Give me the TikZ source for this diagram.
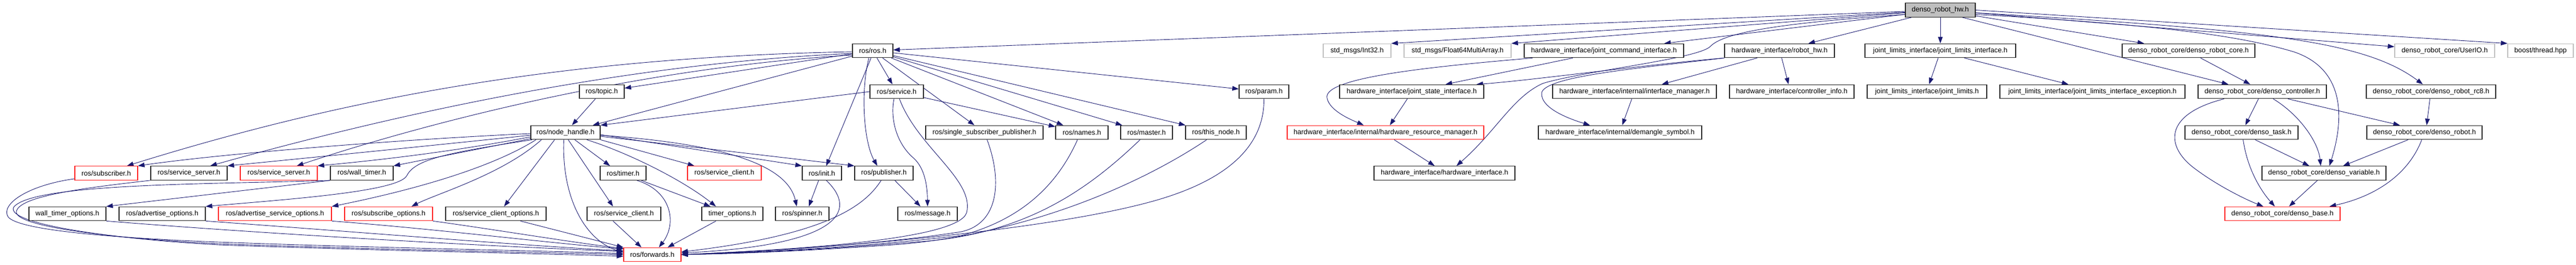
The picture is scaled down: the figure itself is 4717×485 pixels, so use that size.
\documentclass[tikz,border=0pt]{standalone}
\usepackage{fontspec}
\setmainfont{Liberation Sans}
\usetikzlibrary{arrows.meta,calc,backgrounds}
\definecolor{edgec}{HTML}{191970}
\definecolor{redc}{HTML}{FF2020}
\definecolor{grayc}{HTML}{BFBFBF}
\tikzset{
  box/.style={draw=black!85, line width=1.2pt, rectangle, inner sep=0pt, fill=white,
    minimum height=25.5pt, font=\fontsize{12.8}{15}\selectfont, anchor=center},
  redbox/.style={box, draw=redc},
  graybox/.style={box, draw=grayc},
  rootbox/.style={box, fill=grayc},
  dep/.style={draw=edgec, line width=0.9pt, -{Triangle[length=12pt,width=8.5pt]}},
}
\begin{document}
\begin{tikzpicture}[x=1pt,y=-1pt]
\useasboundingbox (0,0) rectangle (4717,485);
% row 0
\node[rootbox, minimum width=128pt] (R) at (3553,18.5) {denso\_robot\_hw.h};
% row 1
\node[box, minimum width=74pt] (ros) at (1598,93) {ros/ros.h};
\node[graybox, minimum width=124pt] (int32) at (2485,93) {std\_msgs/Int32.h};
\node[graybox, minimum width=196pt] (f64) at (2669,93) {std\_msgs/Float64MultiArray.h};
\node[box, minimum width=292pt] (jci) at (2937,93) {hardware\_interface/joint\_command\_interface.h};
\node[box, minimum width=201pt] (rhw) at (3258.5,93) {hardware\_interface/robot\_hw.h};
\node[box, minimum width=276pt] (jli) at (3553,93) {joint\_limits\_interface/joint\_limits\_interface.h};
\node[box, minimum width=243pt] (drc) at (4007.5,93) {denso\_robot\_core/denso\_robot\_core.h};
\node[graybox, minimum width=183pt] (userio) at (4476.5,93) {denso\_robot\_core/UserIO.h};
\node[graybox, minimum width=120pt] (boost) at (4652,93) {boost/thread.hpp};
% row 2
\node[box, minimum width=82pt] (topic) at (1102,168) {ros/topic.h};
\node[box, minimum width=98pt] (service) at (1642,168) {ros/service.h};
\node[box, minimum width=91pt] (param) at (2314.5,168) {ros/param.h};
\node[box, minimum width=264pt] (jsi) at (2585,168) {hardware\_interface/joint\_state\_interface.h};
\node[box, minimum width=300pt] (im) at (2993,168) {hardware\_interface/internal/interface\_manager.h};
\node[box, minimum width=228pt] (ci) at (3281,168) {hardware\_interface/controller\_info.h};
\node[box, minimum width=219pt] (jl) at (3528.5,168) {joint\_limits\_interface/joint\_limits.h};
\node[box, minimum width=339pt] (jle) at (3831.5,168) {joint\_limits\_interface/joint\_limits\_interface\_exception.h};
\node[box, minimum width=235pt] (dc) at (4142.5,168) {denso\_robot\_core/denso\_controller.h};
\node[box, minimum width=237pt] (rc8) at (4451.5,168) {denso\_robot\_core/denso\_robot\_rc8.h};
% row 3
\node[box, minimum width=127pt] (nh) at (1035.5,243) {ros/node\_handle.h};
\node[box, minimum width=215pt] (ssp) at (1802.5,243) {ros/single\_subscriber\_publisher.h};
\node[box, minimum width=96pt] (names) at (1981,243) {ros/names.h};
\node[box, minimum width=95pt] (master) at (2099.5,243) {ros/master.h};
\node[box, minimum width=111pt] (thisnode) at (2226.5,243) {ros/this\_node.h};
\node[redbox, minimum width=360pt] (hrm) at (2537,243) {hardware\_interface/internal/hardware\_resource\_manager.h};
\node[box, minimum width=299pt] (dsym) at (2966.5,243) {hardware\_interface/internal/demangle\_symbol.h};
\node[box, minimum width=207pt] (dtask) at (4104.5,243) {denso\_robot\_core/denso\_task.h};
\node[box, minimum width=211pt] (drobot) at (4439.5,243) {denso\_robot\_core/denso\_robot.h};
% row 4
\node[redbox, minimum width=115pt] (sub) at (194.5,317.5) {ros/subscriber.h};
\node[box, minimum width=140pt] (ssrv) at (346,317.5) {ros/service\_server.h};
\node[redbox, minimum width=141pt] (ssrv2) at (510.5,317.5) {ros/service\_server.h};
\node[box, minimum width=115pt] (wt) at (662.5,317.5) {ros/wall\_timer.h};
\node[box, minimum width=84pt] (timer) at (1141,317.5) {ros/timer.h};
\node[redbox, minimum width=135pt] (sclient2) at (1326.5,317.5) {ros/service\_client.h};
\node[box, minimum width=72pt] (init) at (1505,317.5) {ros/init.h};
\node[box, minimum width=107pt] (pub) at (1618.5,317.5) {ros/publisher.h};
\node[box, minimum width=258pt] (hi) at (2645,317.5) {hardware\_interface/hardware\_interface.h};
\node[box, minimum width=227pt] (dv) at (4255.5,317.5) {denso\_robot\_core/denso\_variable.h};
% row 5
\node[box, minimum width=141pt] (wto) at (123.5,392) {wall\_timer\_options.h};
\node[box, minimum width=158pt] (ao) at (297,392) {ros/advertise\_options.h};
\node[redbox, minimum width=207pt] (aso) at (503.5,392) {ros/advertise\_service\_options.h};
\node[redbox, minimum width=161pt] (so) at (711.5,392) {ros/subscribe\_options.h};
\node[box, minimum width=184pt] (sco) at (908,392) {ros/service\_client\_options.h};
\node[box, minimum width=135pt] (sclient) at (1142.5,392) {ros/service\_client.h};
\node[box, minimum width=112pt] (to) at (1341,392) {timer\_options.h};
\node[box, minimum width=98pt] (spinner) at (1469,392) {ros/spinner.h};
\node[box, minimum width=109pt] (msg) at (1698.5,392) {ros/message.h};
\node[redbox, minimum width=211pt] (dbase) at (4179.5,392) {denso\_robot\_core/denso\_base.h};
% row 6
\node[redbox, minimum width=105pt] (fwd) at (1194.5,467) {ros/forwards.h};

\begin{pgfonlayer}{background}
% ---- root
\draw[dep] (R) -- (ros);
\draw[dep] (R) -- (int32.north east);
\draw[dep] (R) -- (f64.north east);
\draw[dep] (R) -- (jci);
\draw[dep] (R) -- (rhw);
\draw[dep] (R) -- (jli);
\draw[dep] (R) -- (drc);
\draw[dep] ($(R.south)+(40,0)$) -- ($(dc.north)+(-62,0)$);
\draw[dep] ($(R.east)+(0,5)$) .. controls (4150,55) and (4330,75) .. ($(rc8.north)+(-15,0)$);
\draw[dep] (R) -- (userio);
\draw[dep] (R.east) -- (boost.north west);
\draw[dep] ($(R.east)+(0,8)$) .. controls (3950,45) and (4100,65) .. (4200,95) .. controls (4290,125) and (4295,210) .. ($(dv.north)+(10,0)$);
\draw[dep] ($(R.west)+(0,8)$) .. controls (3300,40) and (3160,55) .. (3132,85) .. controls (3110,108) and (2900,130) .. (2825,153) .. controls (2770,178) and (2740,240) .. ($(hi.north)+(22,0)$);
% ---- ros.h
\draw[dep] (ros) -- (topic);
\draw[dep] (ros) -- (nh);
\draw[dep] ($(ros.west)+(0,2)$) .. controls (1000,105) and (600,190) .. ($(sub.north)+(38,0)$);
\draw[dep] ($(ros.west)+(0,5)$) .. controls (1100,118) and (650,230) .. ($(ssrv.north)+(39,0)$);
\draw[dep] ($(ros.west)+(0,8)$) .. controls (1150,125) and (750,235) .. ($(ssrv2.north)+(33,0)$);
\draw[dep] (ros) -- (service);
\draw[dep] (ros) -- (ssp);
\draw[dep] (ros) -- (names);
\draw[dep] (ros) -- (master);
\draw[dep] (ros) -- (thisnode);
\draw[dep] (ros) -- (param);
\draw[dep] ($(ros.south)+(-7,0)$) .. controls (1575,170) and (1582,262) .. ($(pub.north)+(-12,0)$);
\draw[dep] ($(ros.south)+(-3,0)$) -- ($(init.north)+(8,0)$);
% ---- service.h
\draw[dep] (service.west) -- (nh.north east);
\draw[dep] (service) -- (names);
\draw[dep] ($(service.south)+(-5,0)$) .. controls (1630,215) and (1640,262) .. (1673,290) .. controls (1695,310) and (1698,345) .. (msg.north);
\draw[dep] ($(service.south)+(5,0)$) .. controls (1680,270) and (1785,330) .. (1770,390) .. controls (1755,440) and (1450,458) .. (fwd.east);
% ---- to forwards from the right
\draw[dep] ($(ssp.south)+(5,0)$) .. controls (1835,330) and (1830,410) .. (1760,425) .. controls (1600,450) and (1400,460) .. (fwd.east);
\draw[dep] ($(names.south)+(-8,0)$) .. controls (1940,330) and (1880,400) .. (1760,432) .. controls (1560,455) and (1400,462) .. (fwd.east);
\draw[dep] ($(master.south)+(-12,0)$) .. controls (1990,350) and (1880,425) .. (1700,442) .. controls (1500,458) and (1400,463) .. (fwd.east);
\draw[dep] ($(thisnode.south)+(-17,0)$) .. controls (2100,330) and (1900,425) .. (1650,448) .. controls (1450,462) and (1350,465) .. (fwd.east);
\draw[dep] (param.south) .. controls (2315,260) and (2260,330) .. (2100,372) .. controls (1900,425) and (1500,458) .. (fwd.east);
% ---- topic.h
\draw[dep] (topic) -- (nh);
% ---- node_handle.h
\draw[dep] ($(nh.west)+(0,2)$) .. controls (750,255) and (420,280) .. (sub.north east);
\draw[dep] ($(nh.west)+(0,5)$) .. controls (780,268) and (560,290) .. (ssrv.north east);
\draw[dep] ($(nh.west)+(0,8)$) .. controls (820,280) and (680,295) .. (ssrv2.north east);
\draw[dep] ($(nh.south west)+(0,-2)$) -- (wt.north east);
\draw[dep] ($(nh.south west)+(3,0)$) .. controls (820,280) and (760,292) .. (745,322) .. controls (730,352) and (520,366) .. (ao.north east);
\draw[dep] ($(nh.south west)+(10,0)$) .. controls (880,320) and (700,360) .. (aso.north east);
\draw[dep] ($(nh.south west)+(20,0)$) .. controls (920,320) and (800,355) .. ($(so.north)+(42,0)$);
\draw[dep] ($(nh.south)+(-20,0)$) -- ($(sco.north)+(15,0)$);
\draw[dep] ($(nh.south)+(-3,0)$) .. controls (1028,360) and (1070,440) .. ($(fwd.west)+(0,-4)$);
\draw[dep] ($(nh.south)+(5,0)$) -- ($(sclient.north)+(-20,0)$);
\draw[dep] ($(nh.south)+(17,0)$) -- ($(timer.north)+(-24,0)$);
\draw[dep] ($(nh.south east)+(-25,0)$) .. controls (1150,280) and (1250,330) .. ($(to.north)+(-30,0)$);
\draw[dep] (nh.south east) -- ($(sclient2.north)+(-55,0)$);
\draw[dep] ($(nh.east)+(0,4)$) -- (init.north west);
\draw[dep] ($(nh.east)+(0,7)$) -- (pub.north west);
\draw[dep] ($(nh.east)+(0,5)$) .. controls (1300,262) and (1440,295) .. ($(spinner.north)+(-10,0)$);
% ---- left loops to forwards
\draw[dep] ($(sub.south west)+(0,-3)$) .. controls (50,340) and (0,375) .. (15,398) .. controls (35,422) and (200,436) .. (400,444) .. controls (700,455) and (1000,460) .. ($(fwd.west)+(0,-2)$);
\draw[dep] (ssrv.south west) .. controls (150,345) and (35,360) .. (30,388) .. controls (26,415) and (200,437) .. (400,447) .. controls (700,458) and (1000,463) .. (fwd.west);
\draw[dep] (wt.south west) .. controls (400,338) and (60,335) .. (25,380) .. controls (10,410) and (200,438) .. (400,449) .. controls (700,460) and (1000,465) .. ($(fwd.west)+(0,3)$);
\draw[dep] (wt.south west) -- (wto.north east);
% ---- row 5 to forwards
\draw[dep] (wto.south east) .. controls (500,430) and (900,452) .. ($(fwd.west)+(0,-6)$);
\draw[dep] (ao.south east) .. controls (650,425) and (950,450) .. ($(fwd.west)+(0,-7)$);
\draw[dep] (aso.south east) .. controls (800,420) and (1000,445) .. ($(fwd.north west)+(0,3)$);
\draw[dep] (so.south east) .. controls (900,420) and (1050,445) .. ($(fwd.north west)+(0,2)$);
\draw[dep] ($(sco.south)+(45,0)$) -- (fwd.north west);
\draw[dep] ($(sclient.south)+(-20,0)$) -- ($(fwd.north)+(-20,0)$);
\draw[dep] ($(timer.south)+(25,0)$) .. controls (1230,350) and (1240,410) .. ($(fwd.north)+(12,0)$);
\draw[dep] ($(timer.south)+(33,0)$) -- ($(to.north)+(-40,0)$);
\draw[dep] ($(to.south)+(-30,0)$) -- ($(fwd.north)+(28,0)$);
\draw[dep] ($(init.south)+(-6,0)$) -- ($(spinner.north)+(12,0)$);
\draw[dep] ($(init.south)+(8,0)$) .. controls (1575,390) and (1530,450) .. ($(fwd.east)+(0,-3)$);
\draw[dep] ($(pub.south)+(-5,0)$) .. controls (1585,375) and (1520,430) .. ($(fwd.east)+(0,-5)$);
\draw[dep] ($(pub.south)+(20,0)$) -- ($(msg.north)+(-13,0)$);
% ---- hardware interface
\draw[dep] ($(jci.south)+(-57,0)$) -- ($(jsi.north)+(62,0)$);
\draw[dep] ($(jci.south west)+(16,0)$) .. controls (2650,120) and (2420,140) .. (2430,180) .. controls (2435,205) and (2480,222) .. ($(hrm.north)+(-40,0)$);
\draw[dep] ($(jsi.south)+(-8,0)$) -- ($(hrm.north)+(8,0)$);
\draw[dep] ($(hrm.south)+(16,0)$) -- ($(hi.north)+(-18,0)$);
\draw[dep] (rhw.south west) .. controls (3000,120) and (2800,148) .. ($(jsi.north east)+(-14,0)$);
\draw[dep] (rhw.south west) .. controls (3000,125) and (2830,140) .. (2823,170) .. controls (2820,200) and (2880,220) .. ($(dsym.north)+(-55,0)$);
\draw[dep] ($(rhw.south)+(-41,0)$) -- ($(im.north)+(50,0)$);
\draw[dep] ($(rhw.south)+(4,0)$) -- ($(ci.north)+(-6,0)$);
\draw[dep] ($(im.south)+(-5,0)$) -- ($(dsym.north)+(4,0)$);
% ---- joint limits
\draw[dep] ($(jli.south)+(-4,0)$) -- ($(jl.north)+(4,0)$);
\draw[dep] ($(jli.south)+(44,0)$) -- ($(jle.north)+(-44,0)$);
% ---- denso
\draw[dep] ($(drc.south)+(22,0)$) -- ($(dc.north)+(-22,0)$);
\draw[dep] ($(dc.south)+(-7,0)$) -- ($(dtask.north)+(7,0)$);
\draw[dep] ($(dc.south)+(20,0)$) .. controls (4210,210) and (4245,260) .. ($(dv.north)+(-6,0)$);
\draw[dep] ($(dc.south)+(-70,0)$) .. controls (3960,210) and (3965,270) .. (4020,310) .. controls (4060,340) and (4110,365) .. ($(dbase.north)+(-35,0)$);
\draw[dep] ($(dc.south)+(47,0)$) -- ($(drobot.north)+(-45,0)$);
\draw[dep] ($(dtask.south)+(25,0)$) -- ($(dv.north)+(-27,0)$);
\draw[dep] ($(dtask.south)+(3,0)$) .. controls (4115,310) and (4140,350) .. ($(dbase.north)+(-14,0)$);
\draw[dep] ($(dv.south)+(-12,0)$) -- ($(dbase.north)+(12,0)$);
\draw[dep] ($(drobot.south)+(-30,0)$) -- ($(dv.north)+(35,0)$);
\draw[dep] ($(drobot.south)+(-5,0)$) .. controls (4410,320) and (4350,360) .. ($(dbase.north east)+(-20,0)$);
\draw[dep] ($(rc8.south)+(-2,0)$) -- ($(drobot.north)+(4,0)$);
\end{pgfonlayer}
\end{tikzpicture}
\end{document}
